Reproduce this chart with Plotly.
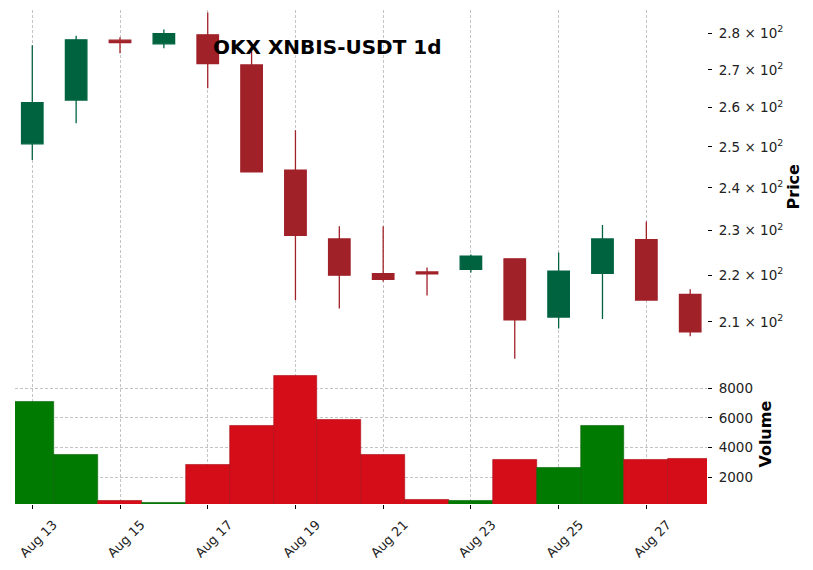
import plotly.graph_objects as go
from plotly.subplots import make_subplots

# ---- data ----
dates = ["Aug 13", "Aug 14", "Aug 15", "Aug 16", "Aug 17", "Aug 18", "Aug 19", "Aug 20",
         "Aug 21", "Aug 22", "Aug 23", "Aug 24", "Aug 25", "Aug 26", "Aug 27", "Aug 28"]
opens  = [250.8, 262.0, 278.1, 277.1, 279.6, 271.3, 244.3, 228.1, 220.3, 220.7, 221.3, 223.6, 211.0, 220.4, 227.9, 215.8]
highs  = [276.7, 279.3, 278.9, 281.1, 285.9, 277.5, 254.2, 231.0, 231.0, 221.7, 224.6, 223.7, 225.0, 231.3, 232.1, 216.9]
lows   = [246.8, 256.0, 274.5, 275.9, 265.1, 243.9, 214.6, 212.8, 218.6, 215.6, 220.6, 202.4, 208.6, 210.6, 214.6, 207.0]
closes = [261.3, 278.2, 277.4, 279.9, 271.7, 243.9, 228.9, 220.0, 219.1, 220.3, 224.2, 210.4, 220.9, 228.1, 214.6, 207.9]
volumes = [7100, 3530, 430, 290, 2860, 5500, 8800, 5840, 3530, 490, 430, 3200, 2660, 5500, 3200, 3260]

price_ticks = [210, 220, 230, 240, 250, 260, 270, 280]
price_tick_text = ["2.1 × 10<sup>2</sup>", "2.2 × 10<sup>2</sup>", "2.3 × 10<sup>2</sup>", "2.4 × 10<sup>2</sup>",
                   "2.5 × 10<sup>2</sup>", "2.6 × 10<sup>2</sup>", "2.7 × 10<sup>2</sup>", "2.8 × 10<sup>2</sup>"]
volume_ticks = [2000, 4000, 6000, 8000]
date_tick_idx = [0, 2, 4, 6, 8, 10, 12, 14]

UP, DOWN = "#006340", "#a02128"
VUP, VDOWN = "#007a00", "#d50d18"
FONT = "DejaVu Sans"

x = list(range(len(dates)))
vol_colors = [VUP if c >= o else VDOWN for o, c in zip(opens, closes)]
vol_edges = ["#006000" if c >= o else "#a80a14" for o, c in zip(opens, closes)]

fig = make_subplots(rows=2, cols=1, shared_xaxes=True, vertical_spacing=0.004,
                    row_heights=[0.715, 0.285])

fig.add_trace(go.Candlestick(
    x=x, open=opens, high=highs, low=lows, close=closes,
    increasing=dict(line=dict(color=UP, width=1.3), fillcolor=UP),
    decreasing=dict(line=dict(color=DOWN, width=1.3), fillcolor=DOWN),
    whiskerwidth=0, showlegend=False), row=1, col=1)

fig.add_trace(go.Bar(
    x=x, y=volumes, width=1.0,
    marker=dict(color=vol_colors, line=dict(color=vol_edges, width=0.6)),
    showlegend=False), row=2, col=1)

grid = dict(showgrid=True, gridcolor="#c4c4c4", gridwidth=0.8, griddash="3px,2px")

xr = [-0.394, 15.383]
fig.update_xaxes(range=xr, tickvals=date_tick_idx, ticktext=[dates[i] for i in date_tick_idx],
                 showline=False, zeroline=False, rangeslider_visible=False,
                 automargin=False, **grid)
fig.update_xaxes(showticklabels=False, ticks="", row=1, col=1)
fig.update_xaxes(ticks="outside", ticklen=4, tickcolor="black", tickwidth=1.2,
                 tickangle=-45, ticklabelshift=21, ticklabelstandoff=3,
                 tickfont=dict(family=FONT, size=13, color="#222"), row=2, col=1)

fig.update_yaxes(type="log", range=[2.30488, 2.45728], side="right",
                 tickvals=price_ticks, ticktext=price_tick_text,
                 ticks="outside", ticklen=4, tickcolor="black", tickwidth=0.8,
                 ticklabelstandoff=4, automargin=False,
                 tickfont=dict(family=FONT, size=13.5, color="#222"),
                 showgrid=False, showline=False, zeroline=False, row=1, col=1)
fig.update_yaxes(range=[215, 9630], side="right", tickvals=volume_ticks,
                 ticks="outside", ticklen=4, tickcolor="black", tickwidth=0.8,
                 ticklabelstandoff=4, automargin=False,
                 tickfont=dict(family=FONT, size=13.5, color="#222"),
                 showline=False, zeroline=False, row=2, col=1, **grid)

fig.add_annotation(text="<b>OKX XNBIS-USDT 1d</b>", xref="paper", yref="paper",
                   x=0.4516, y=0.925, xanchor="center", yanchor="middle", showarrow=False,
                   font=dict(family=FONT, size=20, color="black"))
fig.add_annotation(text="<b>Price</b>", xref="paper", yref="paper", textangle=-90,
                   x=1.1257, y=0.6427, xanchor="center", yanchor="middle", showarrow=False,
                   font=dict(family=FONT, size=16, color="black"))
fig.add_annotation(text="<b>Volume</b>", xref="paper", yref="paper", textangle=-90,
                   x=1.0853, y=0.1405, xanchor="center", yanchor="middle", showarrow=False,
                   font=dict(family=FONT, size=16, color="black"))

# the page body adds an 8px offset, so margins are reduced by 8px on top/left
fig.update_layout(width=813, height=570,
                  margin=dict(l=7, r=114, t=2, b=73.7, autoexpand=False),
                  paper_bgcolor="white", plot_bgcolor="white", bargap=0,
                  font=dict(family=FONT))

fig.write_html("out.html")
